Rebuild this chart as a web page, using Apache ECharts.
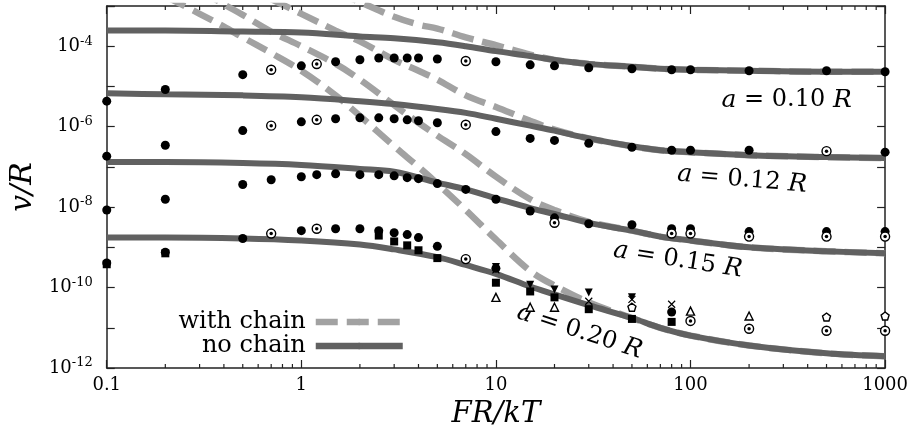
<!DOCTYPE html>
<html><head><meta charset="utf-8">
<script src="https://cdn.jsdelivr.net/npm/echarts@6/dist/echarts.min.js"></script>
<style>html,body{margin:0;padding:0;background:#fff}#c{width:911px;height:434px}</style>
</head><body><div id="c"></div>
<script>
// ---------- data ----------
const xTicksMinor = [0.2,0.3,0.4,0.5,0.6,0.7,0.8,0.9,2,3,4,5,6,7,8,9,20,30,40,50,60,70,80,90,200,300,400,500,600,700,800,900];

// theory curves, "no chain"
const lineX = [0.1,0.2,0.5,1,2,3,5,7,10,15,20,30,50,70,100,200,500,1000];
const noChain010 = [2.45e-4,2.45e-4,2.32e-4,2.2e-4,1.75e-4,1.57e-4,1.25e-4,1.0e-4,7.55e-5,5.7e-5,4.56e-5,3.64e-5,3.08e-5,2.75e-5,2.6e-5,2.46e-5,2.32e-5,2.32e-5];
const noChain012 = [6.75e-6,6.4e-6,6.0e-6,5.4e-6,4.3e-6,3.64e-6,2.75e-6,2.2e-6,1.57e-6,1.06e-6,8.0e-7,5.1e-7,3.25e-7,2.6e-7,2.32e-7,1.96e-7,1.75e-7,1.66e-7];
const noChain015 = [1.32e-7,1.32e-7,1.25e-7,1.12e-7,8.9e-8,7.55e-8,4.07e-8,2.75e-8,1.66e-8,9.45e-9,6.75e-9,4.07e-9,2.6e-9,1.85e-9,1.48e-9,1.0e-9,8.0e-10,7.1e-10];
const noChain020 = [1.75e-9,1.75e-9,1.66e-9,1.48e-9,1.18e-9,8.9e-10,5.7e-10,3.64e-10,2.2e-10,1.06e-10,6.75e-11,3.64e-11,1.75e-11,1.0e-11,6.4e-12,3.64e-12,2.32e-12,1.96e-12];

// theory curves, "with chain"
const dashX = [0.2,0.3,0.4,0.5,0.7,1,1.5,2,3,4,5,7,10,15,20,30,50,70,100,200,500,1000];
const withChain010 = [null,null,null,null,null,null,2.2e-3,1.25e-3,5.4e-4,3.44e-4,2.75e-4,1.66e-4,1.06e-4,6.2e-5,4.56e-5,3.64e-5,3.08e-5,2.75e-5,2.6e-5,2.46e-5,2.32e-5,2.32e-5];
const withChain012 = [null,null,null,3.4e-3,1.48e-3,6.4e-4,2.45e-4,1.32e-4,4.56e-5,2.46e-5,1.48e-5,6.0e-6,3.08e-6,1.4e-6,8.45e-7,5.1e-7,3.25e-7,2.6e-7,2.32e-7,1.96e-7,1.75e-7,1.66e-7];
const withChain015 = [null,2.5e-3,1.1e-3,6.0e-4,2.32e-4,1.0e-4,3.64e-5,1.48e-5,3.44e-6,1.25e-6,6.0e-7,2.07e-7,5.7e-8,1.57e-8,8.45e-9,4.3e-9,2.6e-9,1.85e-9,1.48e-9,1.0e-9,8.0e-10,7.1e-10];
const withChain020 = [1.75e-3,6.4e-4,3.08e-4,1.66e-4,6.75e-5,2.46e-5,6.0e-6,1.85e-6,3.25e-7,1.0e-7,3.85e-8,8.45e-9,1.57e-9,2.6e-10,1.12e-10,4.3e-11,1.75e-11,1.0e-11,6.4e-12,3.64e-12,2.32e-12,1.96e-12];

// simulation points
const simX = [0.1,0.2,0.5,0.7,1,1.2,1.5,2,2.5,3,3.5,4,5,7,10,15,20,30,50,80,100,200,500,1000];
const sim010 = [4.3e-6,8.4e-6,1.96e-5,2.6e-5,3.25e-5,3.6e-5,4.1e-5,4.6e-5,5.1e-5,5.1e-5,5.1e-5,5.1e-5,4.8e-5,4.3e-5,4.1e-5,3.45e-5,3.25e-5,2.9e-5,2.75e-5,2.6e-5,2.6e-5,2.45e-5,2.45e-5,2.32e-5];
const sim012 = [1.85e-7,3.45e-7,8.0e-7,1.06e-6,1.32e-6,1.48e-6,1.57e-6,1.66e-6,1.66e-6,1.57e-6,1.48e-6,1.4e-6,1.25e-6,1.12e-6,7.55e-7,5.1e-7,4.56e-7,3.85e-7,3.08e-7,2.6e-7,2.6e-7,2.6e-7,2.46e-7,2.32e-7];
const sim015 = [8.45e-9,1.57e-8,3.64e-8,4.8e-8,5.7e-8,6.4e-8,6.75e-8,6.4e-8,6.4e-8,6.0e-8,5.4e-8,5.1e-8,3.85e-8,2.75e-8,1.57e-8,8.0e-9,5.4e-9,3.85e-9,3.64e-9,2.9e-9,2.9e-9,2.46e-9,2.46e-9,2.46e-9];
const sim020X = [0.1,0.2,0.5,0.7,1,1.2,1.5,2,2.5,3,3.5,4,5,7,10,80];
const sim020 = [4.07e-10,7.55e-10,1.66e-9,2.2e-9,2.6e-9,2.9e-9,2.9e-9,2.9e-9,2.6e-9,2.3e-9,2.07e-9,1.75e-9,1.06e-9,5.1e-10,3.0e-10,2.46e-11];

const openX = [0.7,1.2,7, 0.7,1.2,7,500, 20,80,100,200,500,1000, 0.7,1.2,7,100,200,500,1000];
const openY = [2.6e-5,3.6e-5,4.3e-5, 1.06e-6,1.48e-6,1.12e-6,2.46e-7, 4.07e-9,2.2e-9,2.2e-9,1.85e-9,1.85e-9,1.85e-9, 2.2e-9,2.9e-9,5.1e-10,1.48e-11,9.45e-12,8.45e-12,8.45e-12];
const squareX = [0.1,0.2,2.5,3,3.5,4,5,10,15,20,30,50,80];
const squareY = [3.8e-10,7.1e-10,1.96e-9,1.4e-9,1.12e-9,8.45e-10,5.4e-10,1.32e-10,8.0e-11,5.7e-11,2.9e-11,1.66e-11,1.4e-11];
const triDownX = [10,15,20,30,50];
const triDownY = [3.25e-10,1.18e-10,8.9e-11,7.55e-11,5.7e-11];
const triUpX = [10,15,20,100,200];
const triUpY = [5.7e-11,3.25e-11,3.25e-11,2.6e-11,1.96e-11];
const pentX = [50,500,1000];
const pentY = [3.25e-11,1.85e-11,1.96e-11];
const crossX = [10,30,50,80];
const crossY = [2.75e-10,4.56e-11,5.1e-11,3.85e-11];

// curve labels
const labelText = ['0.10','0.12','0.15','0.20'];
const labelX = [312,184,86,26.9];
const labelY = [4.56e-6,4.8e-8,4.8e-10,8.0e-12];
const labelRot = [0,-5,-9,-18];

// ---------- chart ----------
const SERIF = '"DejaVu Serif", serif';
const X_MIN = 0.1, X_MAX = 1000, Y_MIN = 1e-12, Y_MAX = 1e-3;
const DARK = '#616161', LIGHT = '#a2a2a2';
const zip = (xs, ys) => xs.map((x, i) => [x, ys[i]]);

const solids = [noChain010, noChain012, noChain015, noChain020];
const dashes = [withChain010, withChain012, withChain015, withChain020];

const series = [];
dashes.forEach((ys) => {
  series.push({
    name: 'with chain', type: 'line', data: zip(dashX, ys), symbol: 'none', smooth: 0.35,
    lineStyle: {color: LIGHT, width: 6.5, type: [22, 9]}, itemStyle: {color: LIGHT}, z: 2, silent: true
  });
});
solids.forEach((ys, k) => {
  series.push({
    name: 'no chain', type: 'line', data: zip(lineX, ys), symbol: 'none', smooth: 0.35,
    lineStyle: {color: DARK, width: 6}, itemStyle: {color: DARK}, z: 3, silent: true,
    markPoint: {
      symbol: 'circle', symbolSize: 0, silent: true,
      label: {
        show: true, position: 'inside', rotate: labelRot[k],
        formatter: '{i|a} = ' + labelText[k] + ' {i|R}',
        fontFamily: SERIF, fontSize: 24, color: '#000',
        rich: {i: {fontFamily: SERIF, fontSize: 25, fontStyle: 'italic', color: '#000'}}
      },
      data: [{coord: [labelX[k], labelY[k]]}]
    }
  });
});
series.push({
  type: 'custom', silent: true, clip: false, z: 10,
  data: xTicksMinor.map(v => [v, Y_MIN]),
  renderItem: (params, api) => {
    const v = api.value(0);
    const b = api.coord([v, Y_MIN]);
    const t = api.coord([v, Y_MAX]);
    const st = {stroke: '#222', lineWidth: 1.2};
    return {type: 'group', children: [
      {type: 'line', shape: {x1: b[0], y1: b[1], x2: b[0], y2: b[1] - 4}, style: st},
      {type: 'line', shape: {x1: t[0], y1: t[1], x2: t[0], y2: t[1] + 4}, style: st}
    ]};
  }
});
const scat = (data, symbol, size, style, extra) => Object.assign({
  type: 'scatter', data, symbol, symbolSize: size, itemStyle: Object.assign({opacity: 1}, style), z: 5, silent: true
}, extra || {});
const filled = {color: '#000'};
const open = {color: '#fff', borderColor: '#000', borderWidth: 1.4};
series.push(scat(zip(simX, sim010), 'circle', 9, filled));
series.push(scat(zip(simX, sim012), 'circle', 9, filled));
series.push(scat(zip(simX, sim015), 'circle', 9, filled));
series.push(scat(zip(sim020X, sim020), 'circle', 9, filled));
series.push(scat(zip(squareX, squareY), 'rect', 8, filled));
series.push(scat(zip(openX, openY), 'circle', 9, open));
series.push(scat(zip(openX, openY), 'circle', 3.5, filled));
series.push(scat(zip(triDownX, triDownY), 'triangle', 8, filled, {symbolRotate: 180}));
series.push(scat(zip(triUpX, triUpY), 'triangle', 8, open));
series.push(scat(zip(pentX, pentY), 'path://M50,0 L97.6,34.5 L79.4,90.5 L20.6,90.5 L2.4,34.5 Z', 8, open));
series.push(scat(zip(crossX, crossY), 'path://M0,0 L10,10 M10,0 L0,10', 7, {color: 'transparent', borderColor: '#000', borderWidth: 1.2}));

const axisLine = {show: true, lineStyle: {color: '#222', width: 1.5}};
const tick = {show: true, inside: true, length: 8, lineStyle: {color: '#222', width: 1.2}};
const xFmt = v => String(Number(v.toPrecision(3)));
const yFmt = v => {
  const e = Math.round(Math.log10(v));
  return (e % 2 === 0) ? '{b|10}{s|' + e + '}' : '';
};

const option = {
  animation: false,
  backgroundColor: '#fff',
  grid: {left: 102, right: 24, top: 6, bottom: 59},
  legend: {
    show: true, orient: 'vertical', align: 'right', right: 500, top: 305,
    itemWidth: 87, itemHeight: 8, itemGap: 0,
    textStyle: {fontFamily: SERIF, fontSize: 24, color: '#000', lineHeight: 24, padding: [0, 5, 0, 0]},
    data: [
      {name: 'with chain', lineStyle: {color: LIGHT, width: 6.5, type: [22, 9]}},
      {name: 'no chain', lineStyle: {color: DARK, width: 6.5}}
    ],
    selectedMode: false
  },
  xAxis: [
    {type: 'log', logBase: 10, min: X_MIN, max: X_MAX, interval: 1, position: 'bottom',
     axisLine, axisTick: tick, splitLine: {show: false},
     axisLabel: {formatter: xFmt, fontFamily: SERIF, fontSize: 18, color: '#000', margin: 8},
     name: 'FR/kT', nameLocation: 'middle', nameGap: 32,
     nameTextStyle: {fontFamily: SERIF, fontSize: 29, fontStyle: 'italic', color: '#000'}},
    {type: 'log', logBase: 10, min: X_MIN, max: X_MAX, interval: 1, position: 'top',
     axisLine, axisTick: tick, splitLine: {show: false}, axisLabel: {show: false}}
  ],
  yAxis: [
    {type: 'log', logBase: 10, min: Y_MIN, max: Y_MAX, interval: 1, position: 'left',
     axisLine, axisTick: tick, splitLine: {show: false},
     axisLabel: {formatter: yFmt, margin: 14, color: '#000',
       rich: {b: {fontFamily: SERIF, fontSize: 18, color: '#000'},
              s: {fontFamily: SERIF, fontSize: 13, color: '#000', padding: [0, 0, 10, 0]}}},
     name: 'v/R', nameLocation: 'middle', nameGap: 62, nameRotate: 90,
     nameTextStyle: {fontFamily: SERIF, fontSize: 30, fontStyle: 'italic', color: '#000'}},
    {type: 'log', logBase: 10, min: Y_MIN, max: Y_MAX, interval: 1, position: 'right',
     axisLine, axisTick: tick, splitLine: {show: false}, axisLabel: {show: false}}
  ],
  series
};
const chart = echarts.init(document.getElementById('c'), null, {renderer: 'canvas'});
chart.setOption(option);
</script></body></html>
